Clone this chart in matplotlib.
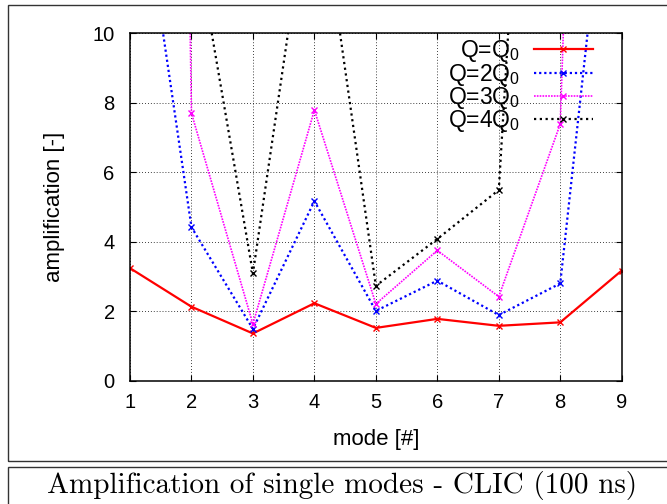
import matplotlib
matplotlib.use("Agg")
import matplotlib.pyplot as plt
from matplotlib.patches import Rectangle

plt.rcParams['font.family'] = ['Liberation Sans', 'DejaVu Sans']
plt.rcParams['mathtext.fontset'] = 'custom'
plt.rcParams['mathtext.rm'] = 'Liberation Sans'
plt.rcParams['mathtext.it'] = 'Liberation Sans:italic'

# mode number and amplification for each quality factor
modes = [1, 2, 3, 4, 5, 6, 7, 8, 9]
amp_q1 = [3.24, 2.13, 1.36, 2.23, 1.52, 1.78, 1.58, 1.68, 3.17]
amp_q2 = [16.5, 4.42, 1.49, 5.17, 2.01, 2.88, 1.89, 2.80, 19.0]
amp_q3 = [120.0, 7.70, 1.63, 7.79, 2.21, 3.75, 2.42, 7.39, 60.0]
amp_q4 = [40.0, 13.4, 3.09, 15.2, 2.73, 4.08, 5.49, 35.0, 60.0]
labels = ['Q=Q$_0$', 'Q=2Q$_0$', 'Q=3Q$_0$', 'Q=4Q$_0$']
caption = 'Amplification of single modes - CLIC (100 ns)'

fig = plt.figure(figsize=(6.67, 5.04), dpi=100)
ax = fig.add_axes([0.1949, 0.2446, 0.7372, 0.6894])

ax.plot(modes, amp_q1, color='#ff0000', lw=1.6, marker='x', ms=5, mew=1.0,
        label=labels[0])
ax.plot(modes, amp_q2, color='#0000ff', lw=1.6, ls=(0, (1, 1.3)), marker='x',
        ms=5, mew=1.0, label=labels[1])
ax.plot(modes, amp_q3, color='#ff00ff', lw=1.2, ls=(0, (1, 0.7)), marker='x',
        ms=5, mew=1.0, label=labels[2])
ax.plot(modes, amp_q4, color='#000000', lw=1.6, ls=(0, (1, 1.6)), marker='x',
        ms=5, mew=1.0, label=labels[3])

ax.set_xlim(1, 9)
ax.set_ylim(0, 10)
ax.set_xticks(modes)
ax.set_yticks([0, 2, 4, 6, 8, 10])
ax.grid(True, color='black', lw=0.6, ls=(0, (1, 2.5)))
ax.tick_params(direction='in', length=4, width=0.8, top=True, right=True,
               labelsize=14.5)
ax.tick_params(axis='x', pad=9)
ax.tick_params(axis='y', pad=11)
for sp in ax.spines.values():
    sp.set_linewidth(1.1)

ax.set_xlabel('mode [#]', fontsize=16, labelpad=12)
ax.set_ylabel('amplification [-]', fontsize=16, labelpad=20)

ax.legend(loc='upper right', bbox_to_anchor=(0.942, 0.985), frameon=False,
          markerfirst=False, fontsize=16.5, handlelength=2.6,
          handletextpad=0.6, labelspacing=-0.12, borderaxespad=0.0,
          borderpad=0.0)

# gnuplot-like frame around the plot and the caption box
fig.patches.append(Rectangle((8 / 667, 43 / 504), 1.0, 456 / 504,
                             transform=fig.transFigure, fill=False,
                             ec='#333333', lw=1.0))
fig.patches.append(Rectangle((8 / 667, -0.05), 1.0, 37 / 504 + 0.05,
                             transform=fig.transFigure, fill=False,
                             ec='#333333', lw=1.0))
fig.text(342 / 667, 1 - 485 / 504, caption, family='cmr10', fontsize=21,
         ha='center', va='center')

fig.savefig('out.png', dpi=100)
